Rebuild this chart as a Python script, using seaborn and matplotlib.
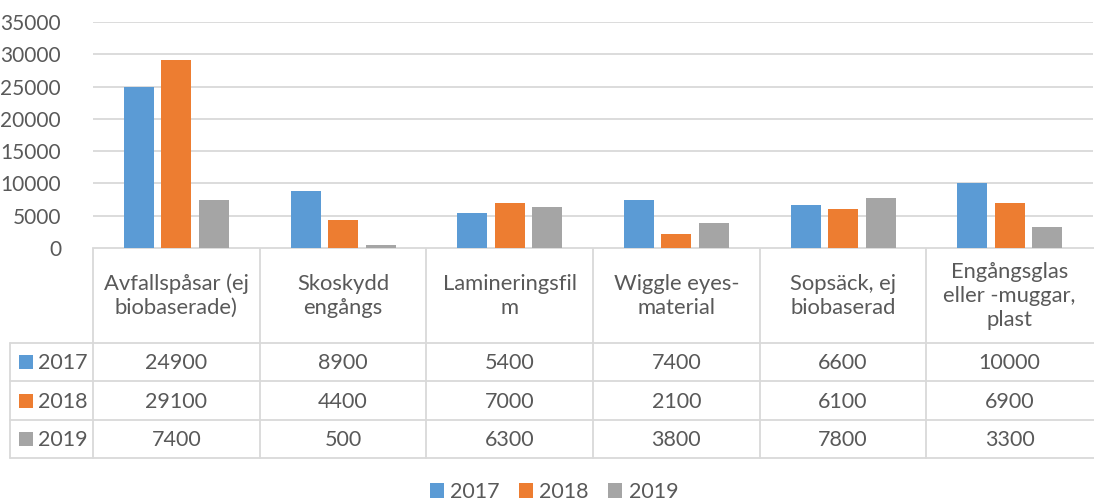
import matplotlib

matplotlib.use("Agg")
import matplotlib.pyplot as plt
import matplotlib.transforms as mtransforms
from matplotlib.patches import Rectangle
import pandas as pd
import seaborn as sns


CATEGORIES = [
    "Avfallspåsar (ej\nbiobaserade)",
    "Skoskydd\nengångs",
    "Lamineringsfil\nm",
    "Wiggle eyes-\nmaterial",
    "Sopsäck, ej\nbiobaserad",
    "Engångsglas\neller -muggar,\nplast",
]
YEARS = ["2017", "2018", "2019"]
VALUES_2017 = [24900, 8900, 5400, 7400, 6600, 10000]
VALUES_2018 = [29100, 4400, 7000, 2100, 6100, 6900]
VALUES_2019 = [7400, 500, 6300, 3800, 7800, 3300]
COLORS = ["#5B9BD5", "#ED7D31", "#A5A5A5"]
Y_TICKS = [0, 5000, 10000, 15000, 20000, 25000, 30000, 35000]

TEXT = "#595959"
LINE = "#D9D9D9"
W, H = 1094, 503

sns.set_theme(style="white")
plt.rcParams["font.family"] = ["Lato", "DejaVu Sans"]

df = pd.DataFrame(
    {
        "category": CATEGORIES * 3,
        "year": [y for y in YEARS for _ in CATEGORIES],
        "value": VALUES_2017 + VALUES_2018 + VALUES_2019,
    }
)

fig = plt.figure(figsize=(W / 100, H / 100), dpi=100)
fig.patch.set_facecolor("white")

# overlay in pixel coordinates for the data table
over = fig.add_axes([0, 0, 1, 1])
over.set_xlim(0, W)
over.set_ylim(H, 0)
over.axis("off")

ax = fig.add_axes([93 / W, 1 - 248 / H, 1000 / W, 226 / H])
sns.barplot(
    data=df, x="category", y="value", hue="year", palette=COLORS,
    width=0.675, gap=0.2, saturation=1, linewidth=0, legend=False, ax=ax,
)
ax.set_xlim(-0.5, len(CATEGORIES) - 0.5)
ax.set_ylim(0, 35000)
ax.set_yticks(Y_TICKS)
ax.set_yticklabels([str(t) for t in Y_TICKS], fontsize=15, color=TEXT)
ax.tick_params(axis="y", length=0, pad=23)
ax.set_xticks([])
ax.set_xlabel("")
ax.set_ylabel("")
for s in ax.spines.values():
    s.set_visible(False)
ax.grid(axis="y", color=LINE, linewidth=1.3)
ax.set_axisbelow(True)

# data table
trans = mtransforms.blended_transform_factory(ax.transData, over.transData)
n = len(CATEGORIES)
row_y = [343, 381, 420, 458]
over.plot([93, 1094], [248, 248], color=LINE, lw=1.3)
for y in row_y:
    over.plot([10, 1094], [y, y], color=LINE, lw=1.3)
over.plot([10, 10], [343, 458], color=LINE, lw=1.3)
for i in range(n):
    over.plot([i - 0.5, i - 0.5], [248, 458], color=LINE, lw=1.3, transform=trans)

for i, cat in enumerate(CATEGORIES):
    over.text(i, 296, cat, transform=trans, ha="center", va="center",
              fontsize=15.8, color=TEXT, linespacing=1.25)

series = [VALUES_2017, VALUES_2018, VALUES_2019]
for r, (year, vals, col) in enumerate(zip(YEARS, series, COLORS)):
    yc = (row_y[r] + row_y[r + 1]) / 2
    over.add_patch(Rectangle((19, yc - 7), 14, 14, color=col, lw=0))
    over.text(38, yc + 1, year, ha="left", va="center", fontsize=15.5, color=TEXT)
    for i, v in enumerate(vals):
        over.text(i, yc + 1, str(v), transform=trans, ha="center", va="center",
                  fontsize=15.5, color=TEXT)

handles = [Rectangle((0, 0), 1, 1, color=c, lw=0) for c in COLORS]
fig.legend(
    handles, YEARS, loc="center", bbox_to_anchor=(554 / W, 1 - 492 / H),
    ncol=3, frameon=False, fontsize=15.5, labelcolor=TEXT,
    handlelength=0.65, handleheight=0.65, handletextpad=0.3, columnspacing=0.9,
)

fig.savefig("out.png", dpi=100)
